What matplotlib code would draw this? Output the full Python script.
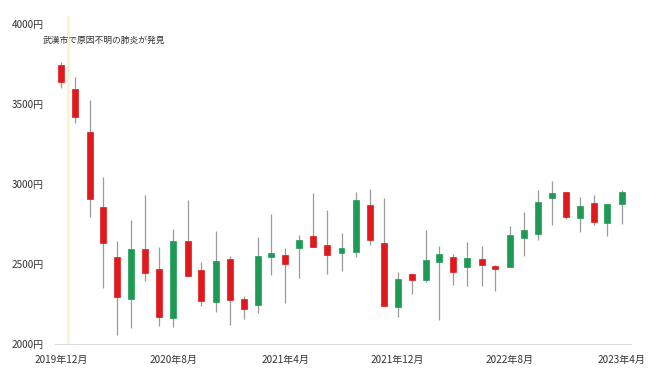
import numpy as np
import pandas as pd
import matplotlib
matplotlib.use("Agg")
import matplotlib.pyplot as plt
import matplotlib.dates as mdates

plt.rcParams['font.family'] = ['Noto Sans CJK JP', 'DejaVu Sans']

# ── datos mensuales (2019年12月 〜 2023年4月) ─────────────────────
meses = pd.date_range("2019-12-01", "2023-04-01", freq="MS") + pd.Timedelta(days=14)

apertura = [3744, 3592, 3327, 2858, 2542, 2283, 2592, 2471, 2160, 2646,
            2462, 2260, 2531, 2283, 2242, 2546, 2554, 2598, 2677, 2621,
            2567, 2575, 2867, 2631, 2229, 2440, 2402, 2510, 2542, 2479,
            2533, 2488, 2481, 2662, 2690, 2915, 2948, 2787, 2881, 2756,
            2875]
cierre   = [3636, 3417, 2904, 2633, 2296, 2596, 2446, 2171, 2644, 2427,
            2271, 2517, 2273, 2217, 2548, 2569, 2502, 2650, 2608, 2558,
            2602, 2900, 2650, 2237, 2404, 2400, 2523, 2560, 2448, 2535,
            2496, 2469, 2683, 2710, 2885, 2942, 2796, 2865, 2760, 2873,
            2952]
maximo   = [3764, 3667, 3525, 3042, 2646, 2775, 2931, 2608, 2721, 2900,
            2510, 2706, 2552, 2302, 2667, 2812, 2600, 2683, 2946, 2840,
            2694, 2950, 2967, 2912, 2448, 2446, 2715, 2615, 2565, 2640,
            2610, 2492, 2735, 2823, 2962, 3017, 2950, 2919, 2933, 2873,
            2960]
minimo   = [3602, 3379, 2792, 2348, 2056, 2102, 2396, 2115, 2106, 2425,
            2240, 2198, 2119, 2156, 2196, 2431, 2254, 2410, 2608, 2437,
            2454, 2544, 2617, 2237, 2171, 2312, 2387, 2150, 2369, 2362,
            2362, 2333, 2481, 2552, 2650, 2744, 2783, 2700, 2742, 2675,
            2752]

evento_fecha = pd.Timestamp("2019-12-31")
evento_texto = "武漢市で原因不明の肺炎が発見"

y_ticks = [2000, 2500, 3000, 3500, 4000]
x_ticks = pd.to_datetime(["2019-12-15", "2020-08-15", "2021-04-15",
                          "2021-12-15", "2022-08-15", "2023-04-15"])

ROJO, VERDE = "#e0191c", "#1d9b55"

# ── gráfico ───────────────────────────────────────────────────────
fig = plt.figure(figsize=(6.6, 3.77), dpi=100)
ax = fig.add_axes([55 / 660, 33 / 377, 576 / 660, 328 / 377])

x = mdates.date2num(meses)
ancho = 13  # días
for xi, o, c, h, l in zip(x, apertura, cierre, maximo, minimo):
    color = VERDE if c >= o else ROJO
    ax.vlines(xi, l, h, color="#9a9a9a", lw=0.9, zorder=1)
    ax.bar(xi, abs(c - o), bottom=min(o, c), width=ancho, color=color,
           edgecolor=color, lw=0.5, zorder=2)

ax.axvline(mdates.date2num(evento_fecha), color="#fcf2cc", lw=2.0, zorder=0)
fig.text(43 / 660, 1 - 40 / 377, evento_texto, fontsize=6.3,
         color="#333333", va="center", ha="left")

x0 = mdates.date2num(meses[0])
ax.set_xlim(x0 - 0.43 * 30.4, x0 + 40.71 * 30.4)
ax.set_ylim(2000, 4050)

ax.set_yticks(y_ticks)
ax.set_yticklabels([f"{v}円" for v in y_ticks], fontsize=7.2, color="#333333")
ax.set_xticks(mdates.date2num(x_ticks))
ax.set_xticklabels([f"{d.year}年{d.month}月" for d in x_ticks],
                   fontsize=7.2, color="#333333")
ax.tick_params(axis="x", length=0, pad=8)
ax.tick_params(axis="y", length=0, pad=8)

for lado in ["top", "right", "left"]:
    ax.spines[lado].set_visible(False)
ax.spines["bottom"].set_color("#dddddd")
ax.spines["bottom"].set_linewidth(0.8)

fig.savefig("out.png", dpi=100)
